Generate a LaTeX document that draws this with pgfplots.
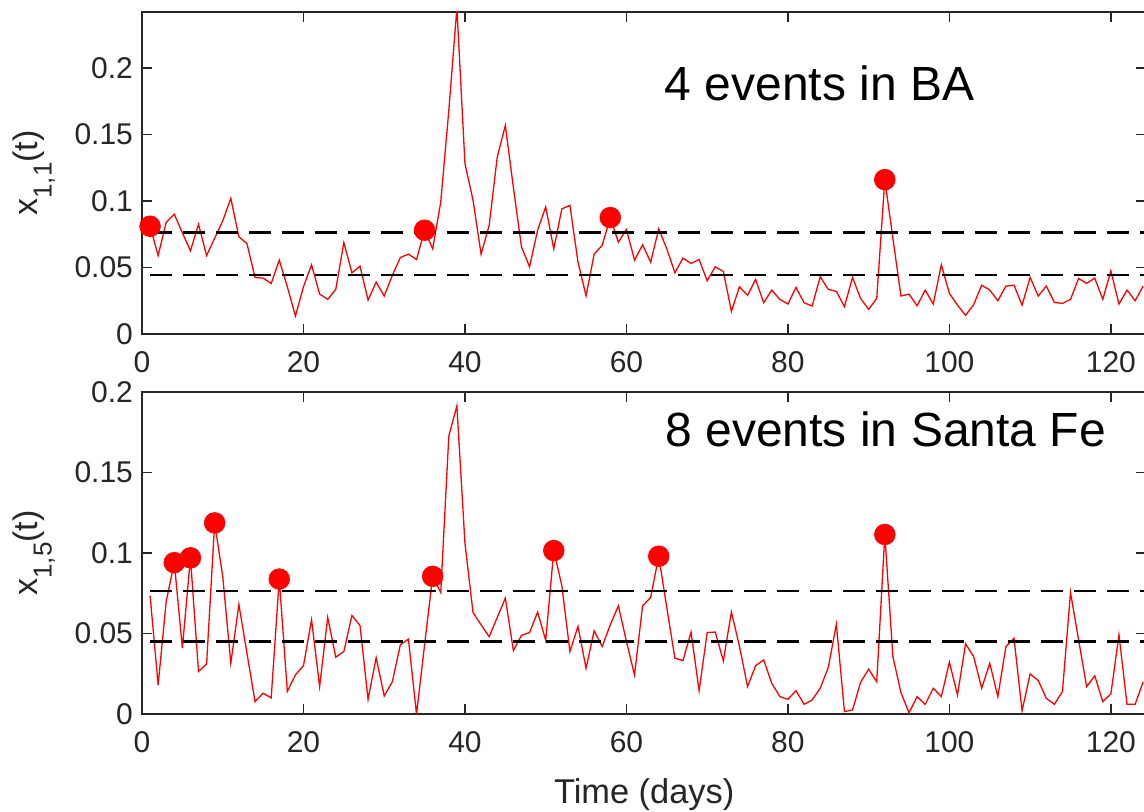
\documentclass[border=0pt]{standalone}
\usepackage{fontspec}
\setmainfont{Liberation Sans}
\usepackage{pgfplots}
\usepackage{pgfplotstable}
\pgfplotsset{compat=1.18}
\definecolor{axgray}{RGB}{38,38,38}

\pgfplotstableread{
t v
1 0.081
2 0.059
3 0.084
4 0.090
5 0.076
6 0.0625
7 0.0825
8 0.059
9 0.072
10 0.085
11 0.102
12 0.073
13 0.068
14 0.0425
15 0.042
16 0.038
17 0.0555
18 0.0355
19 0.0135
20 0.0355
21 0.052
22 0.030
23 0.026
24 0.0335
25 0.0687
26 0.046
27 0.051
28 0.0255
29 0.039
30 0.0285
31 0.044
32 0.0575
33 0.060
34 0.056
35 0.078
36 0.064
37 0.099
38 0.168
39 0.245
40 0.128
41 0.1005
42 0.060
43 0.0817
44 0.133
45 0.1567
46 0.110
47 0.0655
48 0.0505
49 0.078
50 0.0955
51 0.064
52 0.094
53 0.0967
54 0.054
55 0.0287
56 0.060
57 0.0667
58 0.0875
59 0.069
60 0.0785
61 0.0555
62 0.067
63 0.054
64 0.079
65 0.064
66 0.046
67 0.057
68 0.053
69 0.056
70 0.040
71 0.0505
72 0.047
73 0.017
74 0.0355
75 0.029
76 0.041
77 0.0235
78 0.033
79 0.026
80 0.0225
81 0.035
82 0.0235
83 0.021
84 0.043
85 0.0335
86 0.032
87 0.0205
88 0.0425
89 0.0267
90 0.0185
91 0.0267
92 0.116
93 0.072
94 0.0285
95 0.030
96 0.0212
97 0.033
98 0.0225
99 0.052
100 0.0305
101 0.0217
102 0.014
103 0.022
104 0.0367
105 0.033
106 0.025
107 0.036
108 0.0367
109 0.0217
110 0.0425
111 0.0285
112 0.036
113 0.0237
114 0.023
115 0.026
116 0.0417
117 0.038
118 0.042
119 0.026
120 0.0475
121 0.0225
122 0.033
123 0.025
124 0.036
}\topdata

\pgfplotstableread{
t v
1 0.081
35 0.078
58 0.0875
92 0.116
}\topevents

\pgfplotstableread{
t v
1 0.0735
2 0.018
3 0.070
4 0.094
5 0.041
6 0.097
7 0.0264
8 0.031
9 0.1187
10 0.0855
11 0.0315
12 0.068
13 0.0378
14 0.0077
15 0.0129
16 0.010
17 0.0838
18 0.014
19 0.0243
20 0.030
21 0.0585
22 0.017
23 0.060
24 0.0353
25 0.0388
26 0.0612
27 0.055
28 0.0091
29 0.035
30 0.0112
31 0.020
32 0.043
33 0.0465
34 0.000
35 0.043
36 0.0855
37 0.0755
38 0.1727
39 0.1914
40 0.106
41 0.063
42 0.0554
43 0.048
44 0.060
45 0.072
46 0.0394
47 0.0488
48 0.0506
49 0.0633
50 0.0457
51 0.1015
52 0.0797
53 0.0388
54 0.0544
55 0.0284
56 0.0517
57 0.0419
58 0.0554
59 0.0672
60 0.045
61 0.0243
62 0.0672
63 0.0724
64 0.098
65 0.066
66 0.0347
67 0.0332
68 0.0509
69 0.0145
70 0.0506
71 0.0509
72 0.033
73 0.0633
74 0.042
75 0.017
76 0.030
77 0.0336
78 0.019
79 0.0108
80 0.0091
81 0.0145
82 0.006
83 0.0087
84 0.016
85 0.0289
86 0.0558
87 0.0015
88 0.0025
89 0.0197
90 0.0278
91 0.020
92 0.1115
93 0.0357
94 0.0133
95 0.0008
96 0.0108
97 0.006
98 0.016
99 0.0108
100 0.0322
101 0.0118
102 0.0436
103 0.0357
104 0.016
105 0.0315
106 0.0108
107 0.0419
108 0.0471
109 0.002
110 0.0249
111 0.0208
112 0.0098
113 0.006
114 0.0139
115 0.0755
116 0.046
117 0.017
118 0.0237
119 0.0077
120 0.0125
121 0.0492
122 0.006
123 0.006
124 0.020
}\botdata

\pgfplotstableread{
t v
4 0.094
6 0.097
9 0.1187
17 0.0838
36 0.0855
51 0.1015
64 0.098
92 0.1115
}\botevents

\begin{document}
\begin{tikzpicture}
\pgfplotsset{
  myaxis/.style={
    scale only axis,
    width=502.2pt, height=161pt,
    xmin=0, xmax=124.4,
    xtick={0,20,40,60,80,100,120},
    axis line style={axgray, line width=0.8pt},
    every tick/.style={axgray, line width=0.8pt},
    major tick length=5pt,
    tick align=inside,
    tick pos=both,
    ticklabel style={font=\fontsize{15}{15}\selectfont, text=axgray},
    /pgf/number format/assume math mode=true,
    xticklabel style={yshift=-5pt},
    yticklabel style={xshift=-1pt},
    clip mode=individual,
    every axis y label/.style={at={(axis description cs:-0.104,0.5)}, rotate=90, anchor=base, font=\fontsize{17}{17}\selectfont, text=axgray},
  },
  redline/.style={red, line width=0.65pt, no marks},
  thr/.style={black, line width=1.15pt, dash pattern=on 11pt off 5.5pt, no marks},
  ev/.style={only marks, mark=*, mark size=5.2pt, mark options={fill=red, draw=red, line width=0.3pt}},
}
\begin{axis}[myaxis, at={(0,190pt)}, anchor=south west,
  ymin=0, ymax=0.242,
  ytick={0,0.05,0.1,0.15,0.2}, yticklabels={0,0.05,0.1,0.15,0.2},
  ylabel={x\raisebox{-7pt}{\fontsize{13}{13}\selectfont 1,1}(t)}]
\addplot[redline] table[x=t,y=v] {\topdata};
\addplot[thr] coordinates {(1,0.0762) (124.4,0.0762)};
\addplot[thr] coordinates {(1,0.0443) (124.4,0.0443)};
\addplot[ev] table[x=t,y=v] {\topevents};
\node[anchor=base west, inner sep=0pt, font=\fontsize{24}{24}\selectfont] at (axis cs:64.7,0.1754) {4 events in BA};
\end{axis}
\begin{axis}[myaxis, at={(0,0)}, anchor=south west,
  ymin=0, ymax=0.2,
  ytick={0,0.05,0.1,0.15,0.2}, yticklabels={0,0.05,0.1,0.15,0.2},
  ylabel={x\raisebox{-7pt}{\fontsize{13}{13}\selectfont 1,5}(t)},
  xlabel={Time (days)},
  every axis x label/.style={at={(axis description cs:0.5,-0.2764)}, anchor=base, font=\fontsize{17.2}{17.2}\selectfont, text=axgray}]
\addplot[redline] table[x=t,y=v] {\botdata};
\addplot[thr] coordinates {(1,0.0766) (124.4,0.0766)};
\addplot[thr] coordinates {(1,0.045) (124.4,0.045)};
\addplot[ev] table[x=t,y=v] {\botevents};
\node[anchor=base west, inner sep=0pt, font=\fontsize{24}{24}\selectfont] at (axis cs:64.8,0.1664) {8 events in Santa Fe};
\end{axis}
\pgfresetboundingbox
\path[use as bounding box] (-71pt,-49pt) rectangle (501pt,357pt);
\end{tikzpicture}
\end{document}
